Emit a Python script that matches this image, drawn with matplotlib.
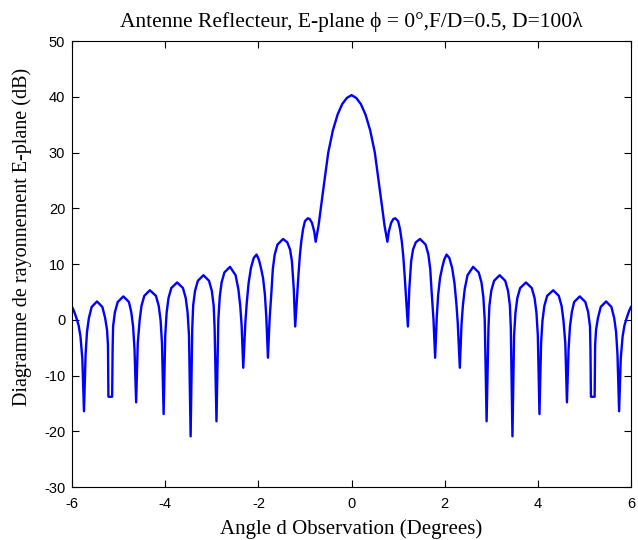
import matplotlib
matplotlib.use("Agg")
import matplotlib.pyplot as plt

# radiation pattern, E-plane, angle in degrees / gain in dB
angle_deg = [
    -6.00, -5.96, -5.91, -5.86, -5.82, -5.78, -5.745,
    -5.71, -5.68, -5.64, -5.58, -5.465, -5.35, -5.29, -5.25, -5.23, -5.22,
    -5.14, -5.13, -5.12, -5.08, -5.02, -4.90, -4.78, -4.73, -4.69, -4.66, -4.625,
    -4.59, -4.55, -4.51, -4.45, -4.33, -4.20, -4.14, -4.10, -4.07, -4.035,
    -4.00, -3.97, -3.93, -3.87, -3.745, -3.62, -3.56, -3.52, -3.49, -3.455,
    -3.42, -3.40, -3.36, -3.30, -3.18, -3.06, -3.00, -2.96, -2.94, -2.90,
    -2.86, -2.83, -2.79, -2.73, -2.61, -2.49, -2.43, -2.39, -2.36, -2.325,
    -2.28, -2.25, -2.21, -2.16, -2.10, -2.04, -1.99, -1.95, -1.90, -1.86, -1.83, -1.795,
    -1.76, -1.72, -1.69, -1.65, -1.59, -1.47, -1.38, -1.32, -1.28, -1.24, -1.21,
    -1.175, -1.14, -1.11, -1.08, -1.04, -1.00, -0.94, -0.90, -0.85, -0.80, -0.77,
    -0.71, -0.66, -0.60, -0.50, -0.40, -0.30, -0.20, -0.10,
    0.00,
    0.10, 0.20, 0.30, 0.40, 0.50, 0.60, 0.66, 0.71,
    0.77, 0.80, 0.85, 0.90, 0.94, 1.00, 1.04, 1.08, 1.11, 1.14, 1.175,
    1.21, 1.24, 1.28, 1.32, 1.38, 1.47, 1.59, 1.65, 1.69, 1.72, 1.76,
    1.795, 1.83, 1.86, 1.90, 1.95, 1.99, 2.04, 2.10, 2.16, 2.21, 2.25, 2.28,
    2.325, 2.36, 2.39, 2.43, 2.49, 2.61, 2.73, 2.79, 2.83, 2.86,
    2.90, 2.94, 2.96, 3.00, 3.06, 3.18, 3.30, 3.36, 3.40, 3.42,
    3.455, 3.49, 3.52, 3.56, 3.62, 3.745, 3.87, 3.93, 3.97, 4.00,
    4.035, 4.07, 4.10, 4.14, 4.20, 4.33, 4.45, 4.51, 4.55, 4.59,
    4.625, 4.66, 4.69, 4.73, 4.78, 4.90, 5.02, 5.08, 5.12, 5.13, 5.14,
    5.22, 5.23, 5.25, 5.29, 5.35, 5.465, 5.58, 5.64, 5.68, 5.71,
    5.745, 5.78, 5.82, 5.86, 5.91, 5.96, 6.00,
]
gain_db = [
    2.3, 1.6, 0.4, -1.0, -3.0, -7.0, -16.4,
    -6.2, -2.2, 0.3, 2.3, 3.3, 2.3, 0.3, -1.8, -4.5, -13.8,
    -13.8, -5.3, -1.2, 1.4, 3.2, 4.2, 3.2, 1.4, -1.2, -5.3, -14.8,
    -4.2, -0.1, 2.5, 4.3, 5.3, 4.3, 2.5, -0.1, -4.2, -16.9,
    -2.8, 1.3, 3.9, 5.7, 6.7, 5.7, 3.9, 1.3, -2.8, -20.9,
    -1.5, 2.6, 5.2, 7.0, 8.0, 7.0, 5.2, 2.5, -1.5, -18.2,
    0.0, 4.1, 6.7, 8.5, 9.5, 8.0, 5.5, 2.5, -1.0, -8.6,
    -0.5, 3.0, 6.6, 9.3, 11.1, 11.7, 10.8, 9.5, 7.5, 4.5, 0.5, -6.8,
    0.0, 5.0, 9.1, 11.7, 13.5, 14.5, 13.9, 12.6, 10.5, 5.5, -1.2,
    3.5, 8.0, 11.5, 14.0, 16.3, 17.7, 18.2, 18.1, 17.4, 15.8, 14.0,
    16.8, 20.0, 23.8, 30.0, 34.0, 36.8, 38.7, 39.8,
    40.3,
    39.8, 38.7, 36.8, 34.0, 30.0, 23.8, 20.0, 16.8,
    14.0, 15.8, 17.4, 18.1, 18.2, 17.7, 16.3, 14.0, 11.5, 8.0, 3.5,
    -1.2, 5.5, 10.5, 12.6, 13.9, 14.5, 13.5, 11.7, 9.1, 5.0, 0.0,
    -6.8, 0.5, 4.5, 7.5, 9.5, 10.8, 11.7, 11.1, 9.3, 6.6, 3.0, -0.5,
    -8.6, -1.0, 2.5, 5.5, 8.0, 9.5, 8.5, 6.7, 4.1, 0.0,
    -18.2, -1.5, 2.5, 5.2, 7.0, 8.0, 7.0, 5.2, 2.6, -1.5,
    -20.9, -2.8, 1.3, 3.9, 5.7, 6.7, 5.7, 3.9, 1.3, -2.8,
    -16.9, -4.2, -0.1, 2.5, 4.3, 5.3, 4.3, 2.5, -0.1, -4.2,
    -14.8, -5.3, -1.2, 1.4, 3.2, 4.2, 3.2, 1.4, -1.2, -5.3, -13.8,
    -13.8, -4.5, -1.8, 0.3, 2.3, 3.3, 2.3, 0.3, -2.2, -6.2,
    -16.4, -7.0, -3.0, -1.0, 0.4, 1.6, 2.3,
]

x_ticks = [-6, -4, -2, 0, 2, 4, 6]
y_ticks = [-30, -20, -10, 0, 10, 20, 30, 40, 50]

plt.rcParams["axes.unicode_minus"] = False
serif = ["Liberation Serif", "DejaVu Serif"]

fig = plt.figure(figsize=(6.38, 5.4), dpi=100)
ax = fig.add_axes([0.113, 0.098, 0.876, 0.826])

ax.plot(angle_deg, gain_db, color="#0000ff", lw=1.7)

ax.set_xlim(-6, 6)
ax.set_ylim(-30, 50)
ax.set_xticks(x_ticks)
ax.set_yticks(y_ticks)
ax.tick_params(direction="in", top=True, right=True, length=5, width=0.8,
               labelsize=10.5, pad=5)
ax.tick_params(axis="x", pad=7)
for lab in ax.get_xticklabels() + ax.get_yticklabels():
    lab.set_fontfamily("Liberation Sans")
for sp in ax.spines.values():
    sp.set_linewidth(0.8)

ax.set_title("Antenne Reflecteur, E-plane \u03d5 = 0\u00b0,F/D=0.5, D=100\u03bb",
             family=serif, fontsize=15.5, pad=10)
ax.set_xlabel("Angle d Observation (Degrees)", family=serif, fontsize=15, labelpad=6)
ax.set_ylabel("Diagramme de rayonnement E-plane (dB)", family=serif, fontsize=14.5)
# MATLAB puts the y label a bit above the axis centre
ax.yaxis.set_label_coords(-0.072, 0.56)

fig.savefig("out.png", dpi=100)
